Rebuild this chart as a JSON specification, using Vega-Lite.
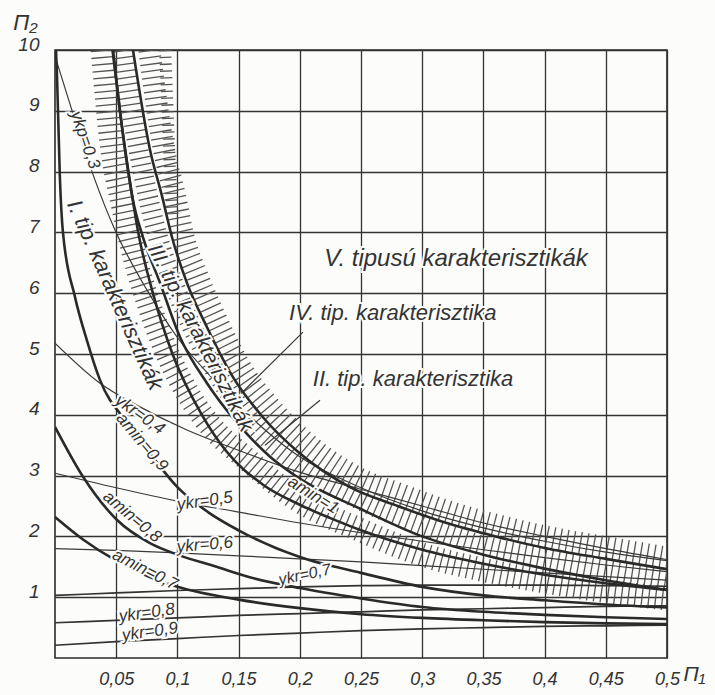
{
"$schema": "https://vega.github.io/schema/vega-lite/v6.json",
"width": 612, "height": 608,
"autosize": {"type": "none"},
"padding": {"left": 55, "top": 50, "right": 48, "bottom": 37},
"background": "#fcfcfa",
"config": {"view": {"stroke": "#2a2a2a", "strokeWidth": 1.6}, "font": "Liberation Sans"},
"datasets": {
"curves": [
{"c":"hU","x":0.077,"y":10},{"c":"hU","x":0.089,"y":8.36},{"c":"hU","x":0.098,"y":7.6},{"c":"hU","x":0.105,"y":6.92},{"c":"hU","x":0.116,"y":6.3},{"c":"hU","x":0.131,"y":5.6},{"c":"hU","x":0.151,"y":4.8},{"c":"hU","x":0.175,"y":4.15},{"c":"hU","x":0.203,"y":3.58},{"c":"hU","x":0.245,"y":2.99},{"c":"hU","x":0.284,"y":2.68},{"c":"hU","x":0.323,"y":2.4},{"c":"hU","x":0.362,"y":2.18},{"c":"hU","x":0.4,"y":2.0},{"c":"hU","x":0.45,"y":1.82},{"c":"hU","x":0.5,"y":1.65},
{"c":"hU2","x":0.09,"y":10},{"c":"hU2","x":0.092,"y":9},{"c":"hU2","x":0.094,"y":8},{"c":"hU2","x":0.096,"y":7.3},
{"c":"hM","x":0.0555,"y":10},{"c":"hM","x":0.0627,"y":9},{"c":"hM","x":0.0717,"y":8},{"c":"hM","x":0.083,"y":7},{"c":"hM","x":0.1,"y":6},{"c":"hM","x":0.123,"y":5},{"c":"hM","x":0.156,"y":4},{"c":"hM","x":0.198,"y":3.2},{"c":"hM","x":0.25,"y":2.59},{"c":"hM","x":0.3,"y":2.18},{"c":"hM","x":0.35,"y":1.85},{"c":"hM","x":0.4,"y":1.64},{"c":"hM","x":0.45,"y":1.45},{"c":"hM","x":0.5,"y":1.29},
{"c":"hL","x":0.039,"y":10},{"c":"hL","x":0.046,"y":8.5},{"c":"hL","x":0.055,"y":7.5},{"c":"hL","x":0.065,"y":6.6},{"c":"hL","x":0.077,"y":5.8},{"c":"hL","x":0.092,"y":5.0},{"c":"hL","x":0.11,"y":4.3},{"c":"hL","x":0.13,"y":3.75},{"c":"hL","x":0.155,"y":3.3},{"c":"hL","x":0.2,"y":2.58},{"c":"hL","x":0.25,"y":2.1},{"c":"hL","x":0.3,"y":1.7},{"c":"hL","x":0.35,"y":1.45},{"c":"hL","x":0.4,"y":1.26},{"c":"hL","x":0.45,"y":1.1},{"c":"hL","x":0.5,"y":0.98},
{"c":"amin09","x":0.0008,"y":10},{"c":"amin09","x":0.0016,"y":9.6},{"c":"amin09","x":0.004,"y":7.9},{"c":"amin09","x":0.0065,"y":7.0},{"c":"amin09","x":0.0163,"y":5.94},{"c":"amin09","x":0.026,"y":5.23},{"c":"amin09","x":0.0368,"y":4.57},{"c":"amin09","x":0.0588,"y":3.87},{"c":"amin09","x":0.08,"y":3.3},{"c":"amin09","x":0.1,"y":2.81},{"c":"amin09","x":0.125,"y":2.4},{"c":"amin09","x":0.15,"y":2.1},{"c":"amin09","x":0.2,"y":1.66},{"c":"amin09","x":0.25,"y":1.4},{"c":"amin09","x":0.3,"y":1.17},{"c":"amin09","x":0.35,"y":1.03},{"c":"amin09","x":0.4,"y":0.95},{"c":"amin09","x":0.45,"y":0.88},{"c":"amin09","x":0.5,"y":0.83},
{"c":"amin08","x":0,"y":3.8},{"c":"amin08","x":0.0229,"y":2.98},{"c":"amin08","x":0.0507,"y":2.27},{"c":"amin08","x":0.0776,"y":1.89},{"c":"amin08","x":0.1,"y":1.7},{"c":"amin08","x":0.132,"y":1.5},{"c":"amin08","x":0.159,"y":1.33},{"c":"amin08","x":0.2,"y":1.15},{"c":"amin08","x":0.25,"y":0.98},{"c":"amin08","x":0.3,"y":0.84},{"c":"amin08","x":0.35,"y":0.76},{"c":"amin08","x":0.4,"y":0.71},{"c":"amin08","x":0.45,"y":0.67},{"c":"amin08","x":0.5,"y":0.64},
{"c":"amin07","x":0,"y":2.32},{"c":"amin07","x":0.0229,"y":1.95},{"c":"amin07","x":0.05,"y":1.6},{"c":"amin07","x":0.075,"y":1.35},{"c":"amin07","x":0.1,"y":1.17},{"c":"amin07","x":0.15,"y":0.96},{"c":"amin07","x":0.2,"y":0.82},{"c":"amin07","x":0.25,"y":0.72},{"c":"amin07","x":0.3,"y":0.66},{"c":"amin07","x":0.35,"y":0.62},{"c":"amin07","x":0.4,"y":0.59},{"c":"amin07","x":0.45,"y":0.57},{"c":"amin07","x":0.5,"y":0.56},
{"c":"IV","x":0.0637,"y":10},{"c":"IV","x":0.0776,"y":8.36},{"c":"IV","x":0.0874,"y":7.6},{"c":"IV","x":0.0956,"y":6.92},{"c":"IV","x":0.1078,"y":6.17},{"c":"IV","x":0.1242,"y":5.44},{"c":"IV","x":0.1454,"y":4.62},{"c":"IV","x":0.1699,"y":3.96},{"c":"IV","x":0.198,"y":3.4},{"c":"IV","x":0.241,"y":2.81},{"c":"IV","x":0.28,"y":2.5},{"c":"IV","x":0.32,"y":2.22},{"c":"IV","x":0.36,"y":2.0},{"c":"IV","x":0.4,"y":1.81},{"c":"IV","x":0.45,"y":1.63},{"c":"IV","x":0.5,"y":1.46},
{"c":"II","x":0.0474,"y":10},{"c":"II","x":0.0572,"y":8.36},{"c":"II","x":0.0637,"y":7.53},{"c":"II","x":0.0719,"y":6.92},{"c":"II","x":0.0858,"y":6.17},{"c":"II","x":0.1021,"y":5.28},{"c":"II","x":0.1242,"y":4.52},{"c":"II","x":0.1487,"y":3.87},{"c":"II","x":0.1757,"y":3.31},{"c":"II","x":0.1977,"y":2.98},{"c":"II","x":0.25,"y":2.45},{"c":"II","x":0.3,"y":2.0},{"c":"II","x":0.35,"y":1.7},{"c":"II","x":0.4,"y":1.47},{"c":"II","x":0.45,"y":1.28},{"c":"II","x":0.5,"y":1.12},
{"c":"amin1","x":0.047,"y":10},{"c":"amin1","x":0.053,"y":9},{"c":"amin1","x":0.06,"y":8},{"c":"amin1","x":0.068,"y":7},{"c":"amin1","x":0.08,"y":6},{"c":"amin1","x":0.096,"y":5},{"c":"amin1","x":0.12,"y":4},{"c":"amin1","x":0.14,"y":3.4},{"c":"amin1","x":0.17,"y":2.85},{"c":"amin1","x":0.2,"y":2.52},{"c":"amin1","x":0.225,"y":2.3},{"c":"amin1","x":0.25,"y":2.1},{"c":"amin1","x":0.3,"y":1.78},{"c":"amin1","x":0.35,"y":1.55},{"c":"amin1","x":0.4,"y":1.37},{"c":"amin1","x":0.45,"y":1.23},{"c":"amin1","x":0.5,"y":1.12},
{"c":"ykr03","x":0,"y":9.9},{"c":"ykr03","x":0.0163,"y":8.85},{"c":"ykr03","x":0.0327,"y":7.86},{"c":"ykr03","x":0.049,"y":7.04},{"c":"ykr03","x":0.0752,"y":6.05},{"c":"ykr03","x":0.0997,"y":5.28},{"c":"ykr03","x":0.1324,"y":4.52},{"c":"ykr03","x":0.165,"y":3.87},{"c":"ykr03","x":0.192,"y":3.42},{"c":"ykr03","x":0.25,"y":2.8},{"c":"ykr03","x":0.3,"y":2.42},{"c":"ykr03","x":0.35,"y":2.14},{"c":"ykr03","x":0.4,"y":1.92},{"c":"ykr03","x":0.45,"y":1.74},{"c":"ykr03","x":0.5,"y":1.6},
{"c":"ykr04","x":0,"y":5.18},{"c":"ykr04","x":0.0368,"y":4.52},{"c":"ykr04","x":0.0694,"y":4.13},{"c":"ykr04","x":0.1078,"y":3.75},{"c":"ykr04","x":0.1454,"y":3.45},{"c":"ykr04","x":0.1944,"y":3.09},{"c":"ykr04","x":0.249,"y":2.78},{"c":"ykr04","x":0.3,"y":2.5},{"c":"ykr04","x":0.35,"y":2.22},{"c":"ykr04","x":0.4,"y":2.0},{"c":"ykr04","x":0.45,"y":1.8},{"c":"ykr04","x":0.5,"y":1.62},
{"c":"ykr05","x":0,"y":3.04},{"c":"ykr05","x":0.05,"y":2.8},{"c":"ykr05","x":0.1,"y":2.58},{"c":"ykr05","x":0.15,"y":2.4},{"c":"ykr05","x":0.2,"y":2.22},{"c":"ykr05","x":0.25,"y":2.06},{"c":"ykr05","x":0.3,"y":1.92},{"c":"ykr05","x":0.35,"y":1.78},{"c":"ykr05","x":0.4,"y":1.65},{"c":"ykr05","x":0.45,"y":1.53},{"c":"ykr05","x":0.5,"y":1.42},
{"c":"ykr06","x":0,"y":1.8},{"c":"ykr06","x":0.05,"y":1.77},{"c":"ykr06","x":0.1,"y":1.73},{"c":"ykr06","x":0.15,"y":1.68},{"c":"ykr06","x":0.2,"y":1.63},{"c":"ykr06","x":0.25,"y":1.58},{"c":"ykr06","x":0.3,"y":1.52},{"c":"ykr06","x":0.35,"y":1.46},{"c":"ykr06","x":0.4,"y":1.4},{"c":"ykr06","x":0.45,"y":1.34},{"c":"ykr06","x":0.5,"y":1.28},
{"c":"ykr07","x":0,"y":1.03},{"c":"ykr07","x":0.05,"y":1.07},{"c":"ykr07","x":0.1,"y":1.11},{"c":"ykr07","x":0.15,"y":1.14},{"c":"ykr07","x":0.2,"y":1.17},{"c":"ykr07","x":0.25,"y":1.19},{"c":"ykr07","x":0.3,"y":1.2},{"c":"ykr07","x":0.35,"y":1.2},{"c":"ykr07","x":0.4,"y":1.2},{"c":"ykr07","x":0.45,"y":1.19},{"c":"ykr07","x":0.5,"y":1.18},
{"c":"ykr08","x":0,"y":0.58},{"c":"ykr08","x":0.05,"y":0.62},{"c":"ykr08","x":0.1,"y":0.66},{"c":"ykr08","x":0.15,"y":0.7},{"c":"ykr08","x":0.2,"y":0.73},{"c":"ykr08","x":0.25,"y":0.76},{"c":"ykr08","x":0.3,"y":0.79},{"c":"ykr08","x":0.35,"y":0.81},{"c":"ykr08","x":0.4,"y":0.83},{"c":"ykr08","x":0.45,"y":0.85},{"c":"ykr08","x":0.5,"y":0.86},
{"c":"ykr09","x":0,"y":0.21},{"c":"ykr09","x":0.05,"y":0.27},{"c":"ykr09","x":0.1,"y":0.32},{"c":"ykr09","x":0.15,"y":0.37},{"c":"ykr09","x":0.2,"y":0.41},{"c":"ykr09","x":0.25,"y":0.45},{"c":"ykr09","x":0.3,"y":0.48},{"c":"ykr09","x":0.35,"y":0.5},{"c":"ykr09","x":0.4,"y":0.52},{"c":"ykr09","x":0.45,"y":0.53},{"c":"ykr09","x":0.5,"y":0.54},
{"c":"leadIV","x":0.152,"y":4.35},{"c":"leadIV","x":0.2026,"y":5.36},
{"c":"leadII","x":0.1716,"y":3.5},{"c":"leadII","x":0.2165,"y":4.24}
],
"labels": [
{"id":"V","t":"V. tipusú karakterisztikák","x":0.3276,"y":6.56},
{"id":"IV","t":"IV. tip. karakterisztika","x":0.276,"y":5.67},
{"id":"II","t":"II. tip. karakterisztika","x":0.2925,"y":4.59},
{"id":"III","t":"III. tip. karakterisztikák","x":0.1185,"y":5.26},
{"id":"I","t":"I. tip. karakterisztikák","x":0.049,"y":5.97},
{"id":"k3","t":"ykp=0,3","x":0.0245,"y":8.52},
{"id":"k4","t":"ykr=0,4","x":0.0694,"y":4.0},
{"id":"a9","t":"amin=0,9","x":0.071,"y":3.55},
{"id":"k5","t":"ykr=0,5","x":0.1225,"y":2.58},
{"id":"a8","t":"amin=0,8","x":0.063,"y":2.32},
{"id":"k6","t":"ykr=0,6","x":0.1225,"y":1.86},
{"id":"a7","t":"amin=0,7","x":0.0735,"y":1.45},
{"id":"k8","t":"ykr=0,8","x":0.075,"y":0.74},
{"id":"k9","t":"ykr=0,9","x":0.0776,"y":0.43},
{"id":"k7","t":"ykr=0,7","x":0.204,"y":1.37},
{"id":"a1","t":"amin=1","x":0.211,"y":2.68}
]
},
"encoding": {
"x": {"field": "x", "type": "quantitative", "scale": {"domain": [0, 0.5], "nice": false, "zero": false},
 "axis": {"title": "Π₁", "values": [0.05,0.1,0.15,0.2,0.25,0.3,0.35,0.4,0.45,0.5], "grid": true, "gridColor": "#333", "gridWidth": 1.3, "gridOpacity": 1, "domain": false, "ticks": false, "labelPadding": 12, "labelFontSize": 18, "labelFontStyle": "italic", "labelColor": "#333", "labelFlush": false, "labelOverlap": false, "labelExpr": "replace(format(datum.value, '.2~f'), '.', ',')", "titleFontSize": 21, "titleFontStyle": "italic", "titleFontWeight": "normal", "titleColor": "#333", "titleX": 639, "titleY": 16, "titleAlign": "center", "titleBaseline": "middle"}},
"y": {"field": "y", "type": "quantitative", "scale": {"domain": [0, 10], "nice": false, "zero": false},
 "axis": {"title": "Π₂", "values": [1,2,3,4,5,6,7,8,9,10], "grid": true, "gridColor": "#333", "gridWidth": 1.3, "gridOpacity": 1, "domain": false, "ticks": false, "labelPadding": 16, "labelOffset": -6, "labelFontSize": 19, "labelFontStyle": "italic", "labelColor": "#333", "labelFlush": false, "labelOverlap": false, "titleFontSize": 22, "titleFontStyle": "italic", "titleFontWeight": "normal", "titleColor": "#333", "titleAngle": 0, "titleX": -30, "titleY": -28, "titleAlign": "center", "titleBaseline": "middle"}}
},
"layer": [
{"data": {"name": "curves"}, "transform": [{"filter": {"field": "c", "oneOf": ["hU"]}}], "mark": {"type": "line", "clip": true, "strokeWidth": 22, "strokeDash": [1.3, 5.5], "color": "#555", "interpolate": "monotone"}, "encoding": {"detail": {"field": "c"}}},
{"data": {"name": "curves"}, "transform": [{"filter": {"field": "c", "oneOf": ["hU2"]}}], "mark": {"type": "line", "clip": true, "strokeWidth": 12, "strokeDash": [1.3, 5.5], "color": "#555", "interpolate": "monotone"}, "encoding": {"detail": {"field": "c"}}},
{"data": {"name": "curves"}, "transform": [{"filter": {"field": "c", "oneOf": ["hM"]}}], "mark": {"type": "line", "clip": true, "strokeWidth": 20, "strokeDash": [1.3, 5.5], "color": "#555", "interpolate": "monotone"}, "encoding": {"detail": {"field": "c"}}},
{"data": {"name": "curves"}, "transform": [{"filter": {"field": "c", "oneOf": ["hL"]}}], "mark": {"type": "line", "clip": true, "strokeWidth": 24, "strokeDash": [1.3, 5.5], "color": "#555", "interpolate": "monotone"}, "encoding": {"detail": {"field": "c"}}},
{"data": {"name": "curves"}, "transform": [{"filter": {"field": "c", "oneOf": ["ykr03","ykr04","ykr05","ykr06","leadIV","leadII"]}}], "mark": {"type": "line", "clip": true, "strokeWidth": 1.2, "color": "#3a3a3a", "interpolate": "monotone"}, "encoding": {"detail": {"field": "c"}}},
{"data": {"name": "curves"}, "transform": [{"filter": {"field": "c", "oneOf": ["ykr07","ykr08","ykr09"]}}], "mark": {"type": "line", "clip": true, "strokeWidth": 1.7, "color": "#333", "interpolate": "monotone"}, "encoding": {"detail": {"field": "c"}}},
{"data": {"name": "curves"}, "transform": [{"filter": {"field": "c", "oneOf": ["amin09","amin08","amin07","IV","II","amin1"]}}], "mark": {"type": "line", "clip": true, "strokeWidth": 2.6, "color": "#2a2a2a", "interpolate": "monotone"}, "encoding": {"detail": {"field": "c"}}},

{"data": {"name": "labels"}, "transform": [{"filter": "datum.id == 'V'"}], "mark": {"type": "text", "angle": 0, "fontSize": 24, "fontStyle": "italic", "font": "Liberation Sans", "color": "#fcfcfa", "stroke": "#fcfcfa", "strokeWidth": 4}, "encoding": {"text": {"field": "t"}}},
{"data": {"name": "labels"}, "transform": [{"filter": "datum.id == 'V'"}], "mark": {"type": "text", "angle": 0, "fontSize": 24, "fontStyle": "italic", "font": "Liberation Sans", "color": "#333"}, "encoding": {"text": {"field": "t"}}},
{"data": {"name": "labels"}, "transform": [{"filter": "datum.id == 'IV' || datum.id == 'II'"}], "mark": {"type": "text", "angle": 0, "fontSize": 22, "fontStyle": "italic", "font": "Liberation Sans", "color": "#fcfcfa", "stroke": "#fcfcfa", "strokeWidth": 4}, "encoding": {"text": {"field": "t"}}},
{"data": {"name": "labels"}, "transform": [{"filter": "datum.id == 'IV' || datum.id == 'II'"}], "mark": {"type": "text", "angle": 0, "fontSize": 22, "fontStyle": "italic", "font": "Liberation Sans", "color": "#333"}, "encoding": {"text": {"field": "t"}}},
{"data": {"name": "labels"}, "transform": [{"filter": "datum.id == 'III'"}], "mark": {"type": "text", "angle": 63, "fontSize": 21, "fontStyle": "italic", "font": "Liberation Sans", "color": "#fcfcfa", "stroke": "#fcfcfa", "strokeWidth": 4}, "encoding": {"text": {"field": "t"}}},
{"data": {"name": "labels"}, "transform": [{"filter": "datum.id == 'III'"}], "mark": {"type": "text", "angle": 63, "fontSize": 21, "fontStyle": "italic", "font": "Liberation Sans", "color": "#333"}, "encoding": {"text": {"field": "t"}}},
{"data": {"name": "labels"}, "transform": [{"filter": "datum.id == 'I'"}], "mark": {"type": "text", "angle": 66, "fontSize": 22, "fontStyle": "italic", "font": "Liberation Sans", "color": "#fcfcfa", "stroke": "#fcfcfa", "strokeWidth": 4}, "encoding": {"text": {"field": "t"}}},
{"data": {"name": "labels"}, "transform": [{"filter": "datum.id == 'I'"}], "mark": {"type": "text", "angle": 66, "fontSize": 22, "fontStyle": "italic", "font": "Liberation Sans", "color": "#333"}, "encoding": {"text": {"field": "t"}}},
{"data": {"name": "labels"}, "transform": [{"filter": "datum.id == 'k3'"}], "mark": {"type": "text", "angle": 71, "fontSize": 17, "fontStyle": "italic", "font": "Liberation Sans", "color": "#fcfcfa", "stroke": "#fcfcfa", "strokeWidth": 4}, "encoding": {"text": {"field": "t"}}},
{"data": {"name": "labels"}, "transform": [{"filter": "datum.id == 'k3'"}], "mark": {"type": "text", "angle": 71, "fontSize": 17, "fontStyle": "italic", "font": "Liberation Sans", "color": "#333"}, "encoding": {"text": {"field": "t"}}},
{"data": {"name": "labels"}, "transform": [{"filter": "datum.id == 'k4'"}], "mark": {"type": "text", "angle": 35, "fontSize": 17, "fontStyle": "italic", "font": "Liberation Sans", "color": "#fcfcfa", "stroke": "#fcfcfa", "strokeWidth": 4}, "encoding": {"text": {"field": "t"}}},
{"data": {"name": "labels"}, "transform": [{"filter": "datum.id == 'k4'"}], "mark": {"type": "text", "angle": 35, "fontSize": 17, "fontStyle": "italic", "font": "Liberation Sans", "color": "#333"}, "encoding": {"text": {"field": "t"}}},
{"data": {"name": "labels"}, "transform": [{"filter": "datum.id == 'a9'"}], "mark": {"type": "text", "angle": 50, "fontSize": 17, "fontStyle": "italic", "font": "Liberation Sans", "color": "#fcfcfa", "stroke": "#fcfcfa", "strokeWidth": 4}, "encoding": {"text": {"field": "t"}}},
{"data": {"name": "labels"}, "transform": [{"filter": "datum.id == 'a9'"}], "mark": {"type": "text", "angle": 50, "fontSize": 17, "fontStyle": "italic", "font": "Liberation Sans", "color": "#333"}, "encoding": {"text": {"field": "t"}}},
{"data": {"name": "labels"}, "transform": [{"filter": "datum.id == 'a8'"}], "mark": {"type": "text", "angle": 40, "fontSize": 17, "fontStyle": "italic", "font": "Liberation Sans", "color": "#fcfcfa", "stroke": "#fcfcfa", "strokeWidth": 4}, "encoding": {"text": {"field": "t"}}},
{"data": {"name": "labels"}, "transform": [{"filter": "datum.id == 'a8'"}], "mark": {"type": "text", "angle": 40, "fontSize": 17, "fontStyle": "italic", "font": "Liberation Sans", "color": "#333"}, "encoding": {"text": {"field": "t"}}},
{"data": {"name": "labels"}, "transform": [{"filter": "datum.id == 'a7'"}], "mark": {"type": "text", "angle": 27, "fontSize": 17, "fontStyle": "italic", "font": "Liberation Sans", "color": "#fcfcfa", "stroke": "#fcfcfa", "strokeWidth": 4}, "encoding": {"text": {"field": "t"}}},
{"data": {"name": "labels"}, "transform": [{"filter": "datum.id == 'a7'"}], "mark": {"type": "text", "angle": 27, "fontSize": 17, "fontStyle": "italic", "font": "Liberation Sans", "color": "#333"}, "encoding": {"text": {"field": "t"}}},
{"data": {"name": "labels"}, "transform": [{"filter": "datum.id == 'a1'"}], "mark": {"type": "text", "angle": 32, "fontSize": 17, "fontStyle": "italic", "font": "Liberation Sans", "color": "#fcfcfa", "stroke": "#fcfcfa", "strokeWidth": 4}, "encoding": {"text": {"field": "t"}}},
{"data": {"name": "labels"}, "transform": [{"filter": "datum.id == 'a1'"}], "mark": {"type": "text", "angle": 32, "fontSize": 17, "fontStyle": "italic", "font": "Liberation Sans", "color": "#333"}, "encoding": {"text": {"field": "t"}}},
{"data": {"name": "labels"}, "transform": [{"filter": "datum.id == 'k5' || datum.id == 'k8' || datum.id == 'k9'"}], "mark": {"type": "text", "angle": -8, "fontSize": 17, "fontStyle": "italic", "font": "Liberation Sans", "color": "#fcfcfa", "stroke": "#fcfcfa", "strokeWidth": 4}, "encoding": {"text": {"field": "t"}}},
{"data": {"name": "labels"}, "transform": [{"filter": "datum.id == 'k5' || datum.id == 'k8' || datum.id == 'k9'"}], "mark": {"type": "text", "angle": -8, "fontSize": 17, "fontStyle": "italic", "font": "Liberation Sans", "color": "#333"}, "encoding": {"text": {"field": "t"}}},
{"data": {"name": "labels"}, "transform": [{"filter": "datum.id == 'k6'"}], "mark": {"type": "text", "angle": -5, "fontSize": 17, "fontStyle": "italic", "font": "Liberation Sans", "color": "#fcfcfa", "stroke": "#fcfcfa", "strokeWidth": 4}, "encoding": {"text": {"field": "t"}}},
{"data": {"name": "labels"}, "transform": [{"filter": "datum.id == 'k6'"}], "mark": {"type": "text", "angle": -5, "fontSize": 17, "fontStyle": "italic", "font": "Liberation Sans", "color": "#333"}, "encoding": {"text": {"field": "t"}}},
{"data": {"name": "labels"}, "transform": [{"filter": "datum.id == 'k7'"}], "mark": {"type": "text", "angle": -12, "fontSize": 16, "fontStyle": "italic", "font": "Liberation Sans", "color": "#fcfcfa", "stroke": "#fcfcfa", "strokeWidth": 4}, "encoding": {"text": {"field": "t"}}},
{"data": {"name": "labels"}, "transform": [{"filter": "datum.id == 'k7'"}], "mark": {"type": "text", "angle": -12, "fontSize": 16, "fontStyle": "italic", "font": "Liberation Sans", "color": "#333"}, "encoding": {"text": {"field": "t"}}}
]
}
